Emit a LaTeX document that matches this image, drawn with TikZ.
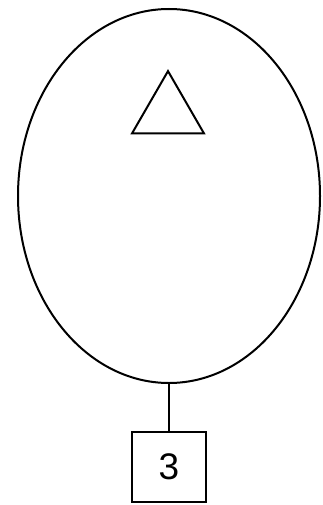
\documentclass[tikz,border=0pt]{standalone}
\usepackage{fontspec}
\setmainfont{Liberation Sans}
\usetikzlibrary{shapes.geometric}
\begin{document}
\begin{tikzpicture}
[x=1pt, y=-1pt, line width=2pt]
\tikzstyle{blob}=[ellipse, draw, inner sep=0mm, minimum width=302pt, minimum height=374pt]
\tikzstyle{tri}=[regular polygon, regular polygon sides=3, draw, inner sep=0mm, minimum size=83pt]
\tikzstyle{leaf}=[rectangle, draw, inner sep=0mm, minimum width=74pt, minimum height=70pt, font=\fontsize{37}{37}\selectfont]
\useasboundingbox (0,0) rectangle (323,505);

\node[blob]	(E)	at (169,196) {};
\node[tri]	(T)	at (168,112.6) {};
\node[leaf]	(B)	at (169,467) {3};

\draw	(E.south)--(B.north);
\end{tikzpicture}
\end{document}
